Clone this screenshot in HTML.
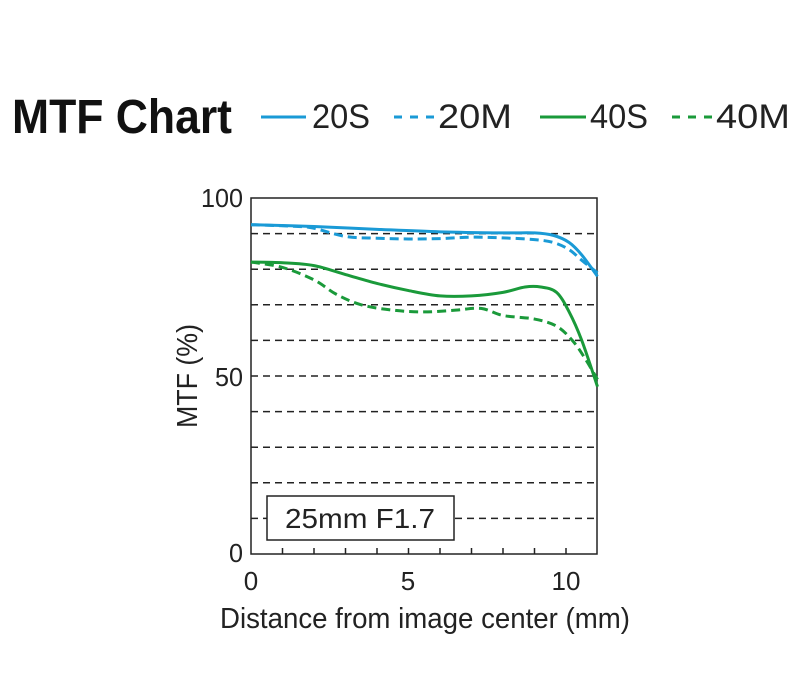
<!DOCTYPE html>
<html><head><meta charset="utf-8"><style>body{margin:0;background:#fff}svg{display:block}text{font-family:"Liberation Sans",sans-serif}</style></head>
<body>
<svg id="s" width="800" height="700" xmlns="http://www.w3.org/2000/svg">
<text x="12" y="133" font-size="48" font-weight="bold" fill="#111" textLength="220" lengthAdjust="spacingAndGlyphs">MTF Chart</text>
<line x1="261" y1="117" x2="306" y2="117" stroke="#1a9ad6" stroke-width="3"/>
<text x="312" y="128" font-size="34" fill="#222" textLength="58" lengthAdjust="spacingAndGlyphs">20S</text>
<line x1="394" y1="117" x2="436" y2="117" stroke="#1a9ad6" stroke-width="3" stroke-dasharray="8,8"/>
<text x="438" y="128" font-size="34" fill="#222" textLength="74" lengthAdjust="spacingAndGlyphs">20M</text>
<line x1="540" y1="117" x2="586" y2="117" stroke="#1a9a3a" stroke-width="3"/>
<text x="590" y="128" font-size="34" fill="#222" textLength="58" lengthAdjust="spacingAndGlyphs">40S</text>
<line x1="672" y1="117" x2="714" y2="117" stroke="#1a9a3a" stroke-width="3" stroke-dasharray="8,8"/>
<text x="716" y="128" font-size="34" fill="#222" textLength="74" lengthAdjust="spacingAndGlyphs">40M</text>
<g id="grid"></g>
<rect x="251" y="198" width="346" height="356" fill="none" stroke="#222" stroke-width="1.5"/>
<rect x="267" y="496" width="187" height="44" fill="#fff" stroke="#222" stroke-width="1.5"/>
<text x="360" y="528" font-size="28" text-anchor="middle" fill="#222" textLength="150" lengthAdjust="spacingAndGlyphs">25mm F1.7</text>
<text x="243" y="207" font-size="26" text-anchor="end" fill="#222" textLength="42" lengthAdjust="spacingAndGlyphs">100</text>
<text x="243" y="386" font-size="26" text-anchor="end" fill="#222" textLength="28" lengthAdjust="spacingAndGlyphs">50</text>
<text x="243" y="562" font-size="26" text-anchor="end" fill="#222" textLength="14" lengthAdjust="spacingAndGlyphs">0</text>
<text x="251" y="590" font-size="26" text-anchor="middle" fill="#222">0</text>
<text x="408" y="590" font-size="26" text-anchor="middle" fill="#222">5</text>
<text x="566" y="590" font-size="26" text-anchor="middle" fill="#222">10</text>
<text x="425" y="628" font-size="29" text-anchor="middle" fill="#222" textLength="410" lengthAdjust="spacingAndGlyphs">Distance from image center (mm)</text>
<text transform="translate(197,376) rotate(-90)" font-size="29" text-anchor="middle" fill="#222" textLength="104" lengthAdjust="spacingAndGlyphs">MTF (%)</text>
<g id="curves"></g>
</svg>
<script>
var X=function(d){return 251+d*31.5},Y=function(v){return 554-v*3.56};
var g='';
for(var v=10;v<=90;v+=10)g+='<line x1="251" x2="597" y1="'+Y(v)+'" y2="'+Y(v)+'" stroke="#222" stroke-width="1.5" stroke-dasharray="7,5"/>';
for(var d=1;d<=10;d++)g+='<line x1="'+X(d)+'" x2="'+X(d)+'" y1="554" y2="548" stroke="#222" stroke-width="1.5"/>';
document.getElementById('grid').innerHTML=g;
function path(p){var pts=p.map(function(a){return [X(a[0]),Y(a[1])]});var s='M'+pts[0];
for(var i=0;i<pts.length-1;i++){var p0=pts[i-1]||pts[i],p1=pts[i],p2=pts[i+1],p3=pts[i+2]||p2;
s+=' C'+(p1[0]+(p2[0]-p0[0])/6)+','+(p1[1]+(p2[1]-p0[1])/6)+' '+(p2[0]-(p3[0]-p1[0])/6)+','+(p2[1]-(p3[1]-p1[1])/6)+' '+p2;}return s;}
var B='#1a9ad6',G='#1a9a3a';
var c=[
[B,0,[[0,92.5],[2,92],[4,91.2],[6,90.5],[8,90.2],[9,90.2],[9.6,89.5],[10.1,87.5],[10.5,84],[11,78]]],
[B,1,[[0,92.5],[1.5,92],[2,91.5],[3,89.2],[4,88.7],[5,88.5],[6,88.6],[7,89],[8,88.8],[9,88.3],[9.6,87.5],[10.1,85.5],[10.5,82.5],[11,79]]],
[G,0,[[0,82],[1,81.8],[2,81],[3,78.5],[4,76],[5,74],[6,72.5],[7,72.5],[8,73.5],[8.7,75],[9.2,75],[9.7,73.5],[10.1,68],[10.5,60],[11,47]]],
[G,1,[[0,82],[1,80.5],[2,77],[2.7,73],[3.5,70],[4.5,68.5],[5.5,68],[6.5,68.5],[7.3,69],[8,67],[9,66],[9.7,64],[10.2,60],[10.6,55],[11,49]]]];
var h='';c.forEach(function(k){h+='<path d="'+path(k[2])+'" fill="none" stroke="'+k[0]+'" stroke-width="3"'+(k[1]?' stroke-dasharray="9,5"':'')+'/>';});
document.getElementById('curves').innerHTML=h;
</script>
</body></html>
